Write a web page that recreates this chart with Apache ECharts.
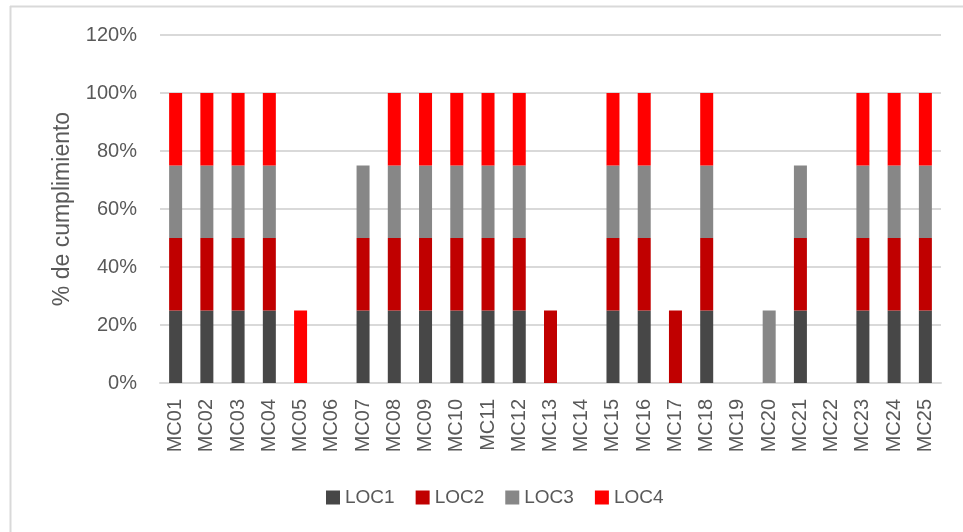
<!DOCTYPE html>
<html>
<head>
<meta charset="utf-8">
<script src="https://cdn.jsdelivr.net/npm/echarts@6/dist/echarts.min.js"></script>
<style>
  html, body { margin: 0; padding: 0; background: #fff; }
  #chart-container { width: 963px; height: 532px; }
</style>
</head>
<body>
<div id="chart-container"></div>
<script>
var categories = ['MC01', 'MC02', 'MC03', 'MC04', 'MC05', 'MC06', 'MC07', 'MC08', 'MC09', 'MC10',
  'MC11', 'MC12', 'MC13', 'MC14', 'MC15', 'MC16', 'MC17', 'MC18', 'MC19', 'MC20',
  'MC21', 'MC22', 'MC23', 'MC24', 'MC25'];
var loc1 = [25, 25, 25, 25, 0, 0, 25, 25, 25, 25, 25, 25, 0, 0, 25, 25, 0, 25, 0, 0, 25, 0, 25, 25, 25];
var loc2 = [25, 25, 25, 25, 0, 0, 25, 25, 25, 25, 25, 25, 25, 0, 25, 25, 25, 25, 0, 0, 25, 0, 25, 25, 25];
var loc3 = [25, 25, 25, 25, 0, 0, 25, 25, 25, 25, 25, 25, 0, 0, 25, 25, 0, 25, 0, 25, 25, 0, 25, 25, 25];
var loc4 = [25, 25, 25, 25, 25, 0, 0, 25, 25, 25, 25, 25, 0, 0, 25, 25, 0, 25, 0, 0, 0, 0, 25, 25, 25];
var yTicks = [0, 20, 40, 60, 80, 100, 120];

var dom = document.getElementById('chart-container');
var myChart = echarts.init(dom, null, { renderer: 'canvas' });

var font = 'Liberation Sans';
var gray = '#d9d9d9';

function bar(name, data, color) {
  return {
    name: name,
    type: 'bar',
    stack: 'total',
    barWidth: 13,
    data: data,
    itemStyle: { color: color },
    emphasis: { disabled: true }
  };
}

var option = {
  animation: false,
  textStyle: { fontFamily: font },
  graphic: [
    { type: 'line', shape: { x1: 10.5, y1: 6, x2: 10.5, y2: 532 }, style: { stroke: gray, lineWidth: 2 } },
    { type: 'line', shape: { x1: 10, y1: 6.5, x2: 963, y2: 6.5 }, style: { stroke: gray, lineWidth: 2 } }
  ],
  grid: { left: 160, right: 22, top: 35, bottom: 149, containLabel: false },
  legend: {
    top: 483,
    left: 321,
    itemWidth: 14,
    itemHeight: 14,
    itemGap: 21,
    icon: 'rect',
    textStyle: { color: '#595959', fontSize: 19, fontFamily: font },
    data: ['LOC1', 'LOC2', 'LOC3', 'LOC4']
  },
  xAxis: {
    type: 'category',
    data: categories,
    axisLine: { lineStyle: { color: gray, width: 2 } },
    axisTick: { show: false },
    axisLabel: { rotate: 90, margin: 16, color: '#595959', fontSize: 20, fontFamily: font, interval: 0 }
  },
  yAxis: {
    type: 'value',
    min: yTicks[0],
    max: yTicks[yTicks.length - 1],
    interval: 20,
    name: '% de cumplimiento',
    nameLocation: 'middle',
    nameGap: 86,
    nameTextStyle: { color: '#595959', fontSize: 23, fontFamily: font },
    axisLine: { show: false },
    axisTick: { show: false },
    splitLine: { lineStyle: { color: gray, width: 2 } },
    axisLabel: { margin: 23, color: '#595959', fontSize: 20, fontFamily: font, formatter: '{value}%' }
  },
  series: [
    bar('LOC1', loc1, '#474747'),
    bar('LOC2', loc2, '#c00000'),
    bar('LOC3', loc3, '#878787'),
    bar('LOC4', loc4, '#ff0000')
  ]
};

myChart.setOption(option);
window.addEventListener('resize', myChart.resize);
</script>
</body>
</html>
